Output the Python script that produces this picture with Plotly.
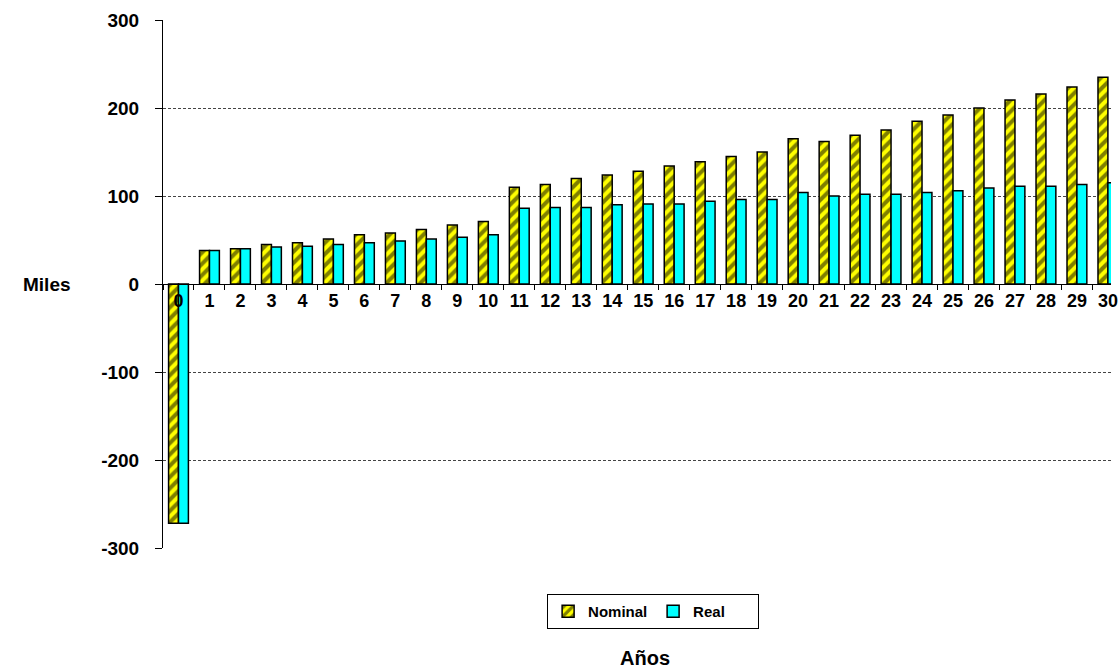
import plotly.graph_objects as go

# Annual cash flows (thousands), nominal vs. real
years = [str(i) for i in range(31)]
nominal = [-272, 38, 40, 45, 47, 51, 56, 58, 62, 67, 71,
           110, 113, 120, 124, 128, 134, 139, 145, 150, 165,
           162, 169, 175, 185, 192, 200, 209, 216, 224, 235]
real = [-272, 38, 40, 42, 43, 45, 47, 49, 51, 53, 56,
        86, 87, 87, 90, 91, 91, 94, 96, 96, 104,
        100, 102, 102, 104, 106, 109, 111, 111, 113, 115]
y_ticks = [-300, -200, -100, 0, 100, 200, 300]
y_labels = ["-300", "-200", "-100", "0", "100", "200", "300"]

FONT = "Liberation Sans, Arial, sans-serif"

fig = go.Figure()
fig.add_trace(go.Bar(
    x=years, y=nominal, name="Nominal",
    marker=dict(color="#FFFF00",
                line=dict(color="black", width=1.5),
                pattern=dict(shape="/", fgcolor="black", bgcolor="#FFFF00",
                             size=8, solidity=0.5)),
))
fig.add_trace(go.Bar(
    x=years, y=real, name="Real",
    marker=dict(color="#00FFFF", line=dict(color="black", width=1.5)),
))

fig.update_layout(
    width=1118, height=671,
    margin=dict(l=163, r=0, t=20, b=123),
    paper_bgcolor="white", plot_bgcolor="white",
    barmode="group", bargap=0.36, bargroupgap=0,
    font=dict(family=FONT, color="black"),
    showlegend=True,
    legend=dict(orientation="h", x=0.517, xanchor="center",
                y=-0.087, yanchor="top",
                bordercolor="black", borderwidth=1, bgcolor="white",
                font=dict(family=FONT, size=15, weight="bold"),
                itemwidth=30, entrywidth=60, traceorder="normal"),
    xaxis=dict(
        type="category", range=[-0.5, 30.1],
        anchor="free", position=0.5,
        showline=True, linecolor="black", linewidth=1,
        ticks="outside", ticklen=5, tickcolor="black", tickson="boundaries",
        tickangle=0,
        tickfont=dict(family=FONT, size=18, weight="bold"),
        showgrid=False, fixedrange=True,
    ),
    yaxis=dict(
        range=[-300, 300], tickvals=y_ticks, ticktext=y_labels,
        showline=True, linecolor="black", linewidth=1,
        ticks="outside", ticklen=7, tickcolor="black",
        ticklabelstandoff=12,
        tickfont=dict(family=FONT, size=19, weight="bold"),
        showgrid=True, gridcolor="#444444", gridwidth=1, griddash="3px,2px",
        zeroline=True, zerolinecolor="black", zerolinewidth=1,
    ),
    annotations=[
        dict(text="Miles", xref="paper", yref="y", x=-0.095, y=0,
             xanchor="right", yanchor="middle", showarrow=False,
             font=dict(family=FONT, size=19, weight="bold")),
        dict(text="Años", xref="paper", yref="paper", x=0.508, y=-0.208,
             xanchor="center", yanchor="middle", showarrow=False,
             font=dict(family=FONT, size=20, weight="bold")),
    ],
)

fig.write_html("out.html")
